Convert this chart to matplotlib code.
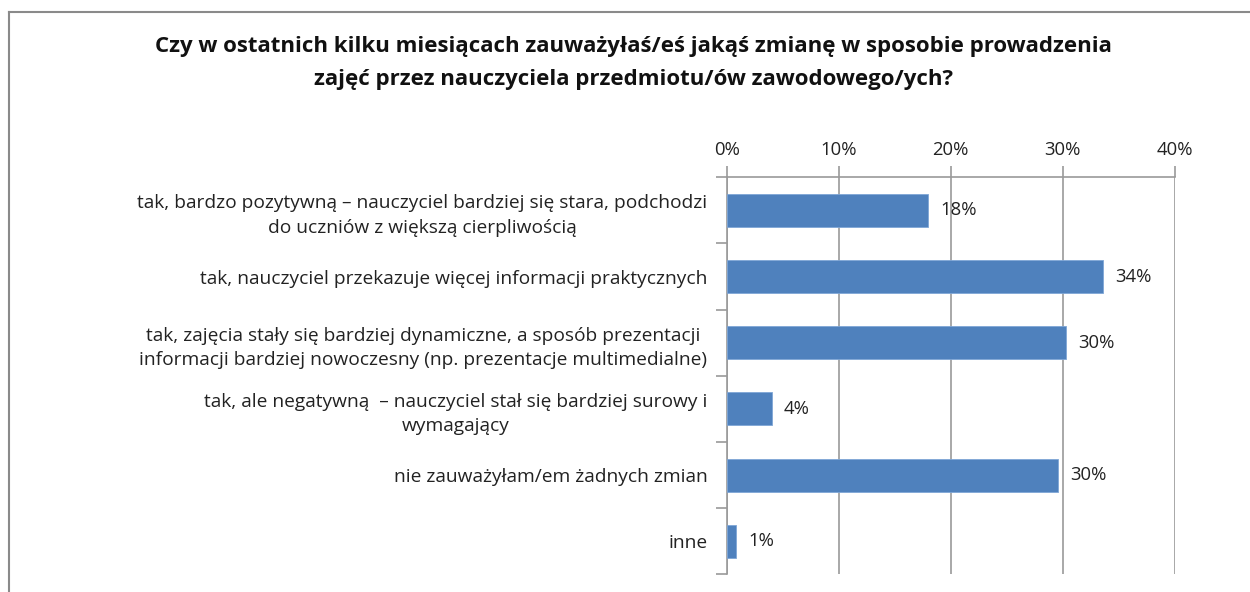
import matplotlib.pyplot as plt
from matplotlib.lines import Line2D

kategorie = [
    "tak, bardzo pozytywną – nauczyciel bardziej się stara, podchodzi\ndo uczniów z większą cierpliwością",
    "tak, nauczyciel przekazuje więcej informacji praktycznych",
    "tak, zajęcia stały się bardziej dynamiczne, a sposób prezentacji\ninformacji bardziej nowoczesny (np. prezentacje multimedialne)",
    "tak, ale negatywną  – nauczyciel stał się bardziej surowy i\nwymagający",
    "nie zauważyłam/em żadnych zmian",
    "inne",
]
procenty = [18.0, 33.6, 30.3, 4.0, 29.6, 0.8]
ticki_x = [0, 10, 20, 30, 40]

plt.rcParams["font.family"] = ["Open Sans", "DejaVu Sans"]

fig = plt.figure(figsize=(12.5, 5.92), dpi=100)
ax = fig.add_axes([0.5814, 0.0299, 0.3584, 0.6706])

szary = "#9a9a9a"
pozycje = list(range(len(kategorie)))
ax.barh(pozycje, procenty, height=0.5, color="#4f81bd", edgecolor="#7fa6d6",
        linewidth=0.6, zorder=3)

for y, v in zip(pozycje, procenty):
    ax.text(v + 1.1, y, "%d%%" % round(v), va="center", ha="left",
            fontsize=13.3, color="#222222", zorder=4)

ax.set_xlim(0, 40)
ax.set_ylim(len(kategorie) - 0.5, -0.5)
ax.xaxis.tick_top()
ax.set_xticks(ticki_x)
ax.set_xticklabels(["%d%%" % t for t in ticki_x], fontsize=13.3, color="#222222")
ax.tick_params(axis="x", length=8, width=1.2, color=szary, pad=5)
ax.grid(axis="x", color=szary, linewidth=1.2, zorder=0)

# etykiety kategorii na srodku, znaczniki na granicach
ax.set_yticks(pozycje)
ax.set_yticklabels(kategorie, fontsize=13.8, color="#222222", ha="right",
                   multialignment="center", linespacing=1.45)
ax.tick_params(axis="y", which="major", length=0, pad=14)
ax.set_yticks([p + 0.5 for p in [-1] + pozycje], minor=True)
ax.tick_params(axis="y", which="minor", length=8, width=1.2, color=szary)

for s in ["right", "bottom"]:
    ax.spines[s].set_visible(False)
for s in ["left", "top"]:
    ax.spines[s].set_color(szary)
    ax.spines[s].set_linewidth(1.2)

fig.text(0.5064, 0.894,
         "Czy w ostatnich kilku miesiącach zauważyłaś/eś jakąś zmianę w sposobie prowadzenia\n"
         "zajęć przez nauczyciela przedmiotu/ów zawodowego/ych?",
         ha="center", va="center", fontsize=16, fontweight="bold",
         linespacing=1.75, color="#111111")

# ramka wykresu
fig.add_artist(Line2D([0.007, 0.007], [0, 0.98], transform=fig.transFigure,
                      color="#8a8a8a", linewidth=1.5))
fig.add_artist(Line2D([0.007, 1.0], [0.98, 0.98], transform=fig.transFigure,
                      color="#8a8a8a", linewidth=1.5))

plt.savefig("out.png", dpi=100)
plt.close()
